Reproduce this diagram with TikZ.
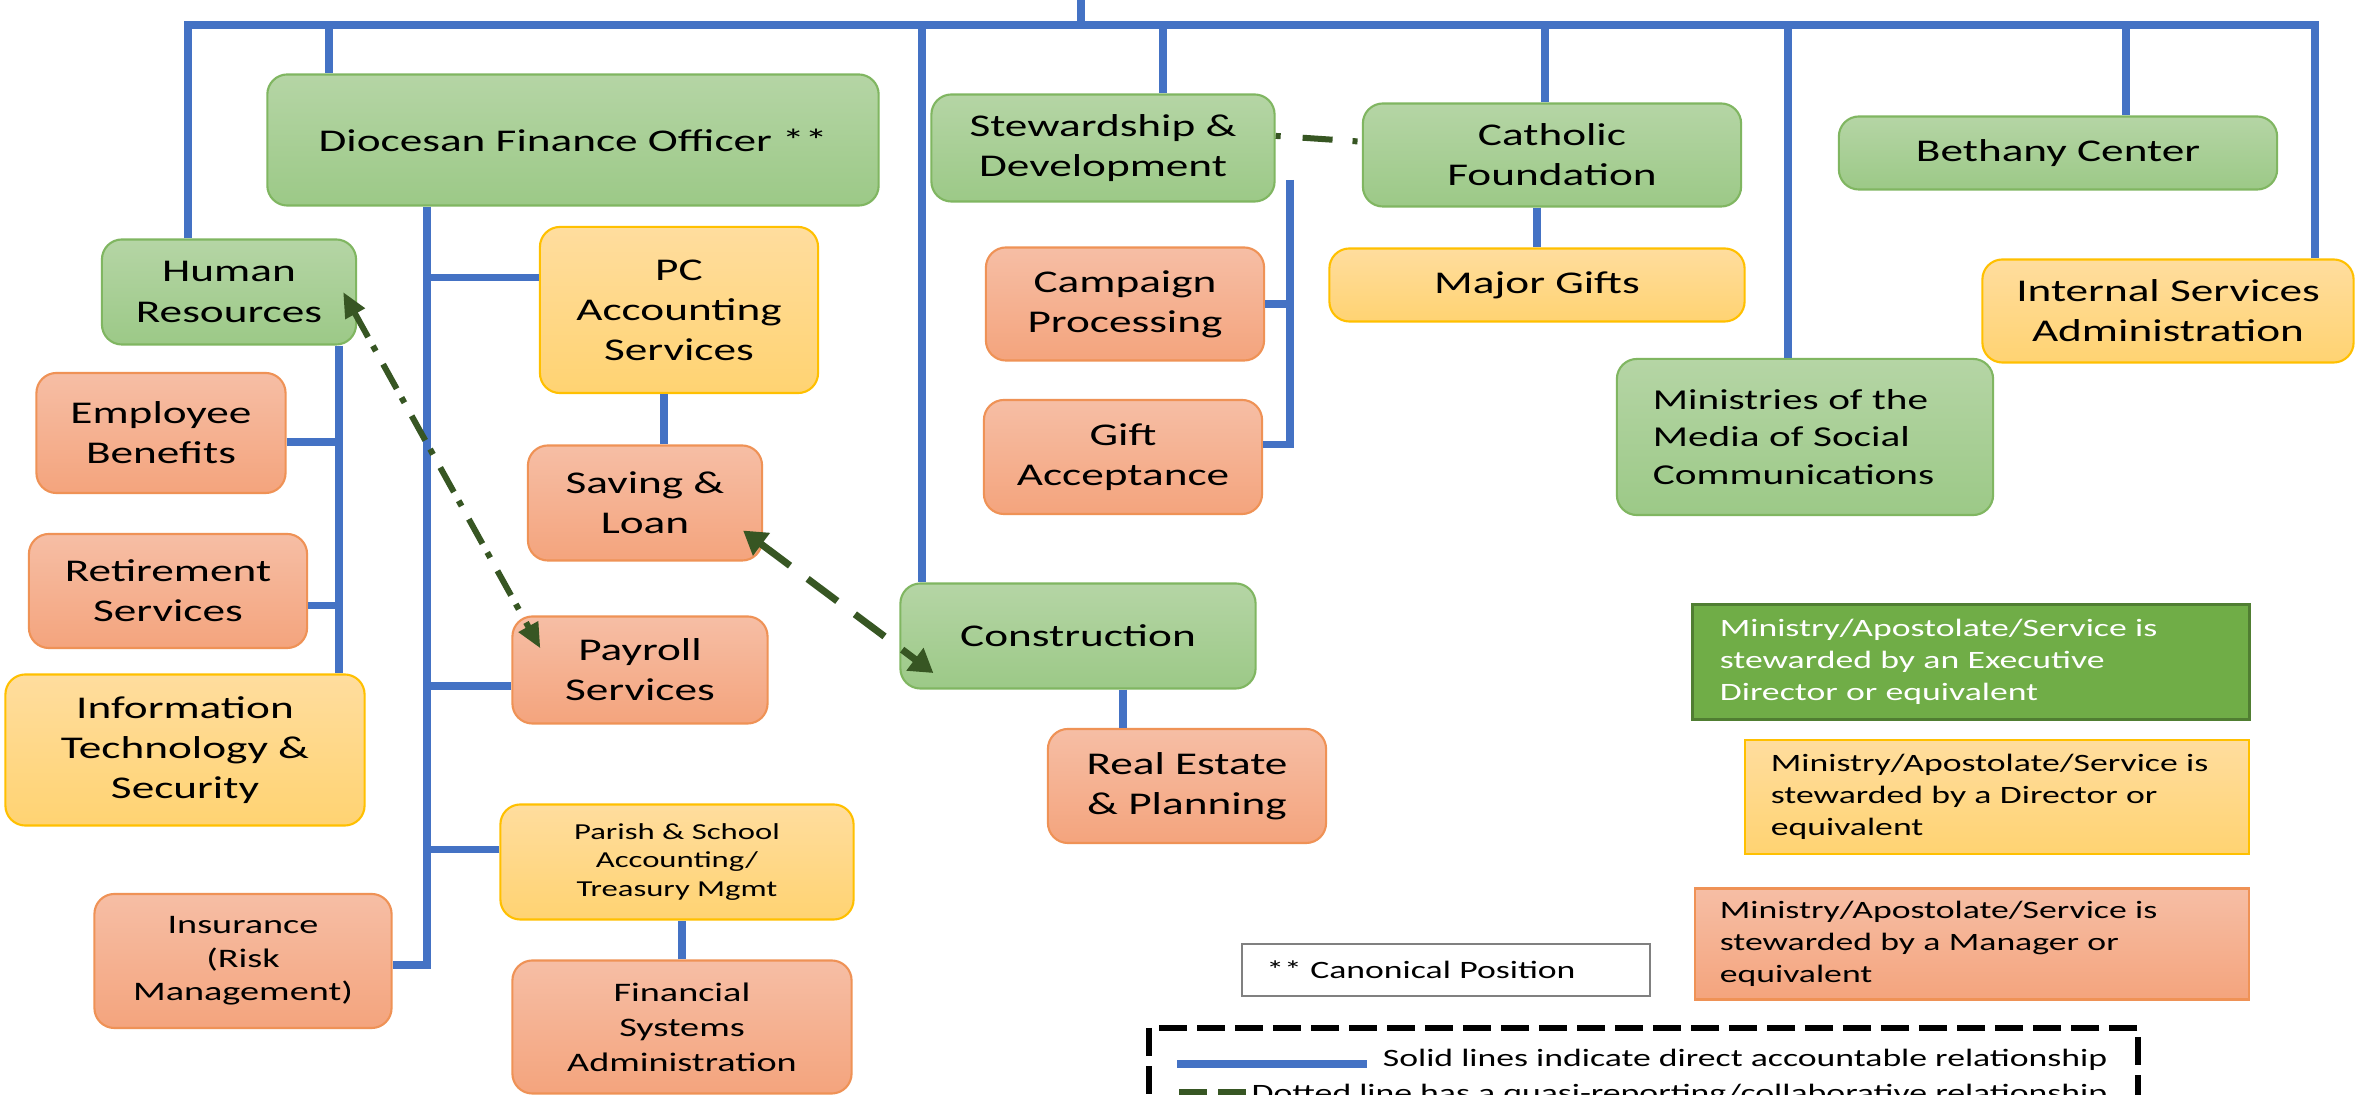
\documentclass[tikz,border=0pt]{standalone}
\usepackage{fontspec}
\setmainfont{Carlito}[FakeStretch=1.43]
\usetikzlibrary{arrows.meta}

\definecolor{lineblue}{HTML}{4472C4}
\definecolor{quasigreen}{HTML}{375623}
\definecolor{greentop}{HTML}{B5D5A5}
\definecolor{greenbot}{HTML}{9CC987}
\definecolor{greenrim}{HTML}{80B661}
\definecolor{goldtop}{HTML}{FFDD9E}
\definecolor{goldbot}{HTML}{FFD372}
\definecolor{goldrim}{HTML}{FFC000}
\definecolor{peachtop}{HTML}{F6BEA5}
\definecolor{peachbot}{HTML}{F4A47D}
\definecolor{peachrim}{HTML}{EF9256}
\definecolor{execfill}{HTML}{70AD47}
\definecolor{execrim}{HTML}{507E32}

\begin{document}
\begin{tikzpicture}[x=0.01cm,y=-0.01cm,
    box/.style={rounded corners=0.2cm,align=center,inner sep=0pt,line width=0.6pt,
      font=\fontsize{9}{11.4}\selectfont},
    exec/.style={box,draw=greenrim,top color=greentop,bottom color=greenbot},
    director/.style={box,draw=goldrim,top color=goldtop,bottom color=goldbot},
    manager/.style={box,draw=peachrim,top color=peachtop,bottom color=peachbot},
    keytext/.style={align=left,inner ysep=0pt,font=\fontsize{7.1}{9}\selectfont},
    keyline/.style={inner sep=0pt,font=\fontsize{7.1}{9}\selectfont},
    solid line/.style={draw=lineblue,line width=0.075cm},
    quasi/.style={draw=quasigreen,line width=0.07cm,dash pattern=on 0.37cm off 0.22cm},
    dashdot/.style={draw=quasigreen,line width=0.06cm,
      dash pattern=on 0.28cm off 0.1cm on 0.06cm off 0.15cm},
    big tips/.style={arrows={Triangle[length=2.3mm,width=2.7mm]-Triangle[length=2.3mm,width=2.7mm]}},
    small tips/.style={arrows={Triangle[length=2.5mm,width=2.1mm]-Triangle[length=2.5mm,width=2.1mm]}}]

    \fill [white] (0,0) rectangle (2356,1095) ;
    \useasboundingbox (0,0) rectangle (2356,1095) ;
    \clip (0,0) rectangle (2356,1095) ;

    % finance office and human resources
    \node [exec,minimum width=6.11cm,minimum height=1.31cm] (dfo) at (573,140) {Diocesan Finance Officer **} ;
    \node [exec,minimum width=2.54cm,minimum height=1.05cm] (hr) at (229,292) {Human\\Resources} ;
    \node [director,minimum width=2.78cm,minimum height=1.66cm] (pcacc) at (679,310) {PC\\Accounting\\Services} ;
    \node [manager,minimum width=2.34cm,minimum height=1.15cm] (saving) at (645,503) {Saving \&\\Loan} ;
    \node [manager,minimum width=2.55cm,minimum height=1.07cm] (payroll) at (640,670) {Payroll\\Services} ;
    \node [director,minimum width=3.53cm,minimum height=1.15cm,font=\fontsize{6.5}{8}\selectfont] (parish) at (677,862) {Parish \& School\\Accounting/\\Treasury Mgmt} ;
    \node [manager,minimum width=3.39cm,minimum height=1.33cm,font=\fontsize{7.6}{10}\selectfont] (finsys) at (682,1027) {Financial\\Systems\\Administration} ;
    \node [manager,minimum width=2.97cm,minimum height=1.34cm,font=\fontsize{7.6}{9.5}\selectfont] (insur) at (243,961) {Insurance\\(Risk\\Management)} ;
    \node [manager,minimum width=2.49cm,minimum height=1.2cm] (benefits) at (161,433) {Employee\\Benefits} ;
    \node [manager,minimum width=2.78cm,minimum height=1.14cm] (retire) at (168,591) {Retirement\\Services} ;
    \node [director,minimum width=3.59cm,minimum height=1.51cm] (itsec) at (185,750) {Information\\Technology \&\\Security} ;

    % stewardship, construction and the rest
    \node [exec,minimum width=3.43cm,minimum height=1.07cm] (stew) at (1103,148) {Stewardship \&\\Development} ;
    \node [exec,minimum width=3.78cm,minimum height=1.03cm] (catholic) at (1552,155) {Catholic\\Foundation} ;
    \node [director,minimum width=4.15cm,minimum height=0.73cm] (major) at (1537,285) {Major Gifts} ;
    \node [manager,minimum width=2.78cm,minimum height=1.13cm] (campaign) at (1125,304) {Campaign\\Processing} ;
    \node [manager,minimum width=2.78cm,minimum height=1.14cm] (gift) at (1123,457) {Gift\\Acceptance} ;
    \node [exec,minimum width=3.55cm,minimum height=1.05cm] (constr) at (1078,636) {Construction} ;
    \node [manager,minimum width=2.78cm,minimum height=1.14cm] (realest) at (1187,786) {Real Estate\\\& Planning} ;
    \node [exec,align=left,text width=3.04cm,inner xsep=0.36cm,minimum height=1.56cm,font=\fontsize{8.2}{10.6}\selectfont] (media) at (1805,437) {Ministries of the\\Media of Social\\Communications} ;
    \node [exec,minimum width=4.38cm,minimum height=0.73cm] (bethany) at (2058,153) {Bethany Center} ;
    \node [director,minimum width=3.71cm,minimum height=1.03cm] (internal) at (2168,311) {Internal Services\\Administration} ;

    % legend
    \node [keytext,draw=execrim,line width=0.03cm,fill=execfill,text=white,text width=5.02cm,inner xsep=0.27cm,minimum height=1.15cm] (keyexec) at (1971,662) {Ministry/Apostolate/Service is\\stewarded by an Executive\\Director or equivalent} ;
    \node [keytext,draw=goldrim,line width=0.6pt,top color=goldtop,bottom color=goldbot,text width=4.52cm,inner xsep=0.26cm,minimum height=1.14cm] (keydir) at (1997,797) {Ministry/Apostolate/Service is\\stewarded by a Director or\\equivalent} ;
    \node [keytext,draw=peachrim,line width=0.6pt,top color=peachtop,bottom color=peachbot,text width=5.04cm,inner xsep=0.25cm,minimum height=1.11cm] (keymgr) at (1972,944) {Ministry/Apostolate/Service is\\stewarded by a Manager or\\equivalent} ;
    \node [keytext,draw=gray,line width=0.6pt,text width=3.59cm,inner xsep=0.24cm,minimum height=0.52cm] (canon) at (1446,970) {** Canonical Position} ;
    \node [draw,line width=0.06cm,dash pattern=on 0.28cm off 0.1cm,minimum width=9.89cm,minimum height=1.12cm,inner sep=0pt] (keybox) at (1643.5,1084) {} ;
    \node [keyline,anchor=base east] (solidtxt) at (2108,1067) {Solid lines indicate direct accountable relationship} ;
    \node [keyline,anchor=base east] (quasitxt) at (2108,1102) {Dotted line has a quasi-reporting/collaborative relationship} ;
    \coordinate (solidA) at (1177,1064) ; \coordinate (solidB) at (1367,1064) ;
    \coordinate (quasiA) at (1179,1093) ; \coordinate (quasiB) at (1247,1093) ;
    \draw [solid line] (solidA) -- (solidB) ;
    \draw [draw=quasigreen,line width=0.07cm,dash pattern=on 0.28cm off 0.11cm] (quasiA) -- (quasiB) ;

    % top bus
    \coordinate (top) at (1081,0) ;
    \coordinate (busL) at (188,25) ; \coordinate (busR) at (2315,25) ;
    \coordinate (dfotap) at (329,25) ; \coordinate (contap) at (922,25) ;
    \coordinate (stewtap) at (1163,25) ; \coordinate (cathtap) at (1545,25) ;
    \coordinate (mediatap) at (1788,25) ; \coordinate (bethtap) at (2126,25) ;
    \draw [solid line] (top) -- (top |- busL) ;
    \draw [solid line] (hr.north -| busL) -- (busL) -- (busR) -- (internal.north -| busR) ;
    \draw [solid line] (dfotap) -- (dfotap |- dfo.north) ;
    \draw [solid line] (contap) -- (contap |- constr.north) ;
    \draw [solid line] (stewtap) -- (stewtap |- stew.north) ;
    \draw [solid line] (cathtap) -- (cathtap |- catholic.north) ;
    \draw [solid line] (mediatap) -- (mediatap |- media.north) ;
    \draw [solid line] (bethtap) -- (bethtap |- bethany.north) ;

    % finance office branch
    \coordinate (dfoline) at (427,965) ;
    \draw [solid line] (dfo.south -| dfoline) -- (dfoline) -- (insur.east |- dfoline) ;
    \draw [solid line] (pcacc.167) -- (pcacc.167 -| dfoline) ;
    \draw [solid line] (payroll.187) -- (payroll.187 -| dfoline) ;
    \draw [solid line] (parish.176) -- (parish.176 -| dfoline) ;
    \draw [solid line] (pcacc.-100) -- (pcacc.-100 |- saving.north) ;
    \draw [solid line] (finsys.north) -- (finsys.north |- parish.south) ;

    % human resources branch
    \coordinate (hrline) at (339,674) ;
    \draw [solid line] (hr.south -| hrline) -- (hrline |- itsec.north) ;
    \draw [solid line] (benefits.356) -- (benefits.356 -| hrline) ;
    \draw [solid line] (retire.354) -- (retire.354 -| hrline) ;

    % stewardship branch
    \coordinate (stewline) at (1290,180) ;
    \draw [solid line] (stewline) |- (gift.5) ;
    \draw [solid line] (campaign.east) -- (campaign.east -| stewline) ;
    \draw [solid line] (constr.-50) -- (constr.-50 |- realest.north) ;
    \draw [solid line] (catholic.south -| major.north) -- (major.north) ;

    % quasi-reporting links
    \draw [quasi,big tips] ([xshift=-2mm,yshift=3.1mm]saving.south east) -- ([xshift=3.4mm,yshift=-3.7mm]constr.west) ;
    \draw [dashdot,small tips] ([xshift=-1.4mm]hr.east) -- ([xshift=2.9mm,yshift=-3.3mm]payroll.north west) ;
    \draw [dashdot,dash pattern=on 0.05cm off 0.22cm on 0.3cm off 0.2cm] (stew.4) -- (catholic.176) ;
\end{tikzpicture}
\end{document}
